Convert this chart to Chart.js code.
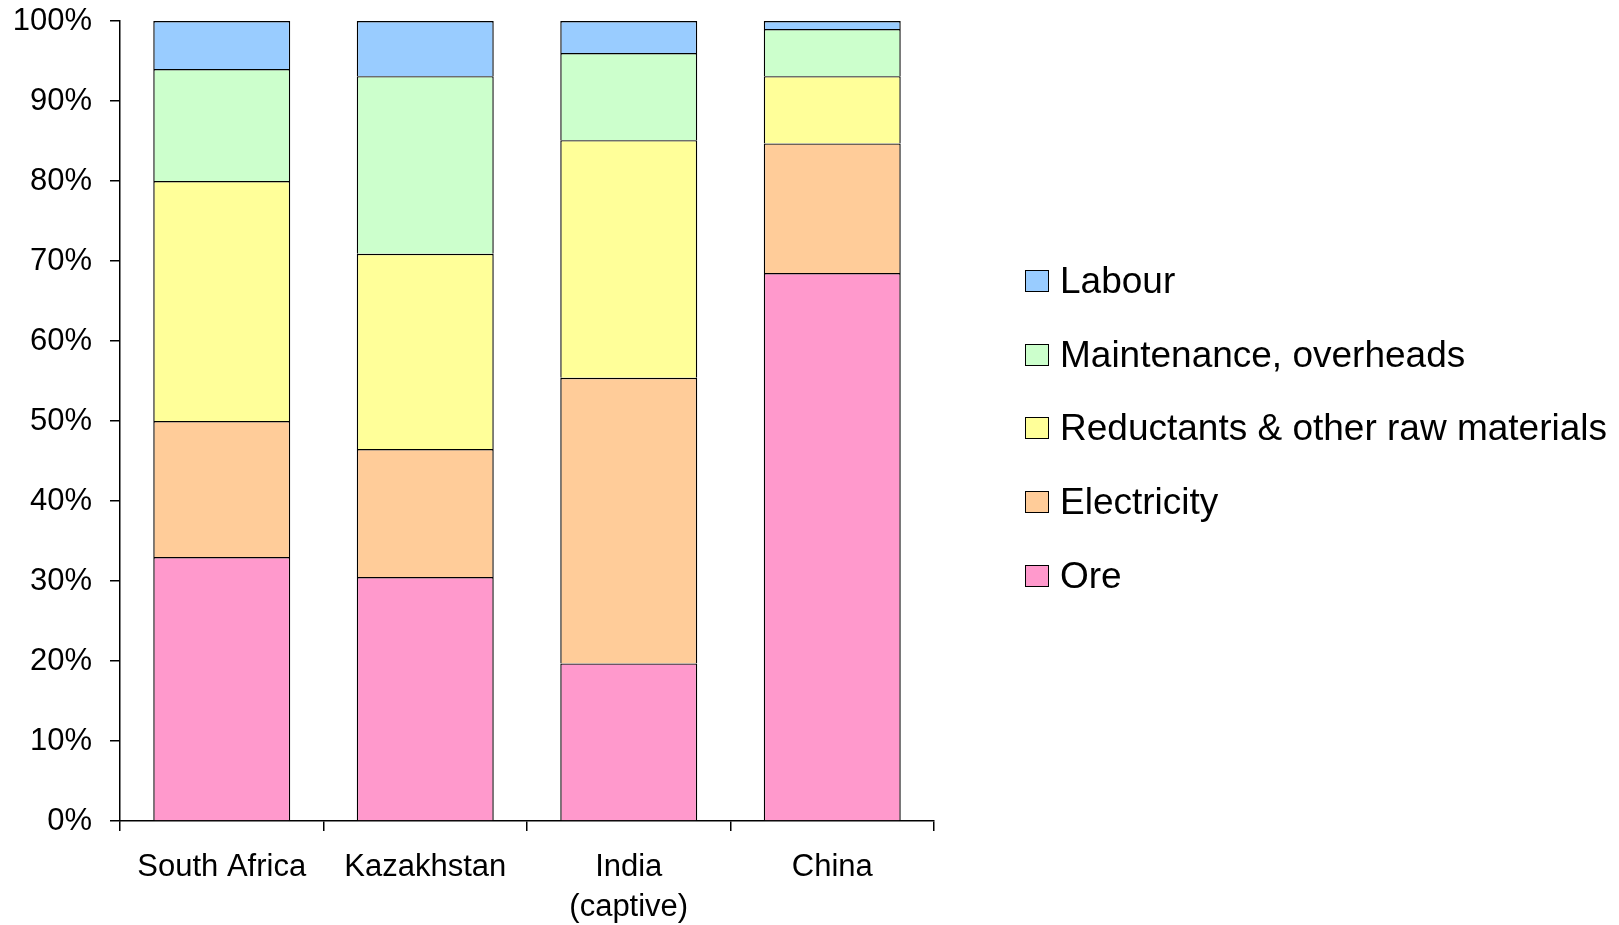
<!DOCTYPE html>
<html>
<head>
<meta charset="utf-8">
<title>Cost breakdown by country</title>
<script src="https://cdn.jsdelivr.net/npm/chart.js@4.4.1/dist/chart.umd.min.js"></script>
<style>
  html, body { margin: 0; padding: 0; background: #fff; }
  #wrap { position: relative; width: 1619px; height: 925px; }
  #legend {
    position: absolute; left: 1025px; top: 244px;
    margin: 0; padding: 0; list-style: none;
    font-family: 'Liberation Sans', Arial, sans-serif; font-size: 37px; color: #000;
  }
  #legend li { display: flex; align-items: center; height: 73.7px; white-space: nowrap; }
  #legend .box { width: 22px; height: 20px; border: 1.5px solid #000; margin-right: 11px; flex: none; }
</style>
</head>
<body>
<div id="wrap">
  <canvas id="costChart" width="1619" height="925"></canvas>
  <ul id="legend"></ul>
</div>
<script>
'use strict';

// share of total cost per country, in %
const countries = ['South Africa', 'Kazakhstan', ['India', '(captive)'], 'China'];
const ore         = [33,   30.5, 19.7, 68.5];
const electricity = [17,   16,   35.7, 16.2];
const reductants  = [30,   24.4, 29.7, 8.4];
const maintenance = [14,   22.2, 10.9, 5.9];
const labour      = [6,    6.9,  4,    1];
const yTicks = [0, 10, 20, 30, 40, 50, 60, 70, 80, 90, 100];

const FONT = "'Liberation Sans', Arial, sans-serif";

function layer(label, data, color) {
  return { label, data, backgroundColor: color, borderColor: '#000', borderWidth: 1.4 };
}

// legend as an html list, top layer first
const htmlLegend = {
  id: 'htmlLegend',
  afterUpdate(chart) {
    const ul = document.getElementById('legend');
    ul.innerHTML = '';
    const items = Chart.defaults.plugins.legend.labels.generateLabels(chart).reverse();
    items.forEach(item => {
      const li = document.createElement('li');
      const box = document.createElement('span');
      box.className = 'box';
      box.style.background = item.fillStyle;
      li.appendChild(box);
      li.appendChild(document.createTextNode(item.text));
      ul.appendChild(li);
    });
  }
};

new Chart(document.getElementById('costChart'), {
  type: 'bar',
  data: {
    labels: countries,
    datasets: [
      layer('Ore', ore, '#FF99CC'),
      layer('Electricity', electricity, '#FFCC99'),
      layer('Reductants & other raw materials', reductants, '#FFFF99'),
      layer('Maintenance, overheads', maintenance, '#CCFFCC'),
      layer('Labour', labour, '#99CCFF')
    ]
  },
  options: {
    responsive: false,
    animation: false,
    barPercentage: 0.673,
    categoryPercentage: 1,
    layout: { padding: { top: 0, right: 685, bottom: 0, left: 0 } },
    plugins: {
      tooltip: { enabled: false },
      legend: { display: false }
    },
    scales: {
      x: {
        stacked: true,
        afterFit(scale) { scale.height = 104; },
        border: { display: true, color: '#000', width: 1.5 },
        grid: { display: true, drawOnChartArea: false, color: '#000', lineWidth: 1.5, tickLength: 10, offset: true },
        ticks: { color: '#000', font: { family: FONT, size: 31, lineHeight: 1.3 }, padding: 16, maxRotation: 0, autoSkip: false }
      },
      y: {
        stacked: true,
        min: 0,
        max: 100,
        afterFit(scale) {
          scale.width = 120;
          scale.paddingTop = 21; // room above 100% is just half the label
        },
        afterBuildTicks(scale) { scale.ticks = yTicks.map(v => ({ value: v })); },
        border: { display: true, color: '#000', width: 1.5 },
        grid: { display: true, drawOnChartArea: false, color: '#000', lineWidth: 1.5, tickLength: 10 },
        ticks: { color: '#000', font: { family: FONT, size: 31 }, padding: 18, callback: v => v + '%' }
      }
    }
  },
  plugins: [htmlLegend]
});
</script>
</body>
</html>
